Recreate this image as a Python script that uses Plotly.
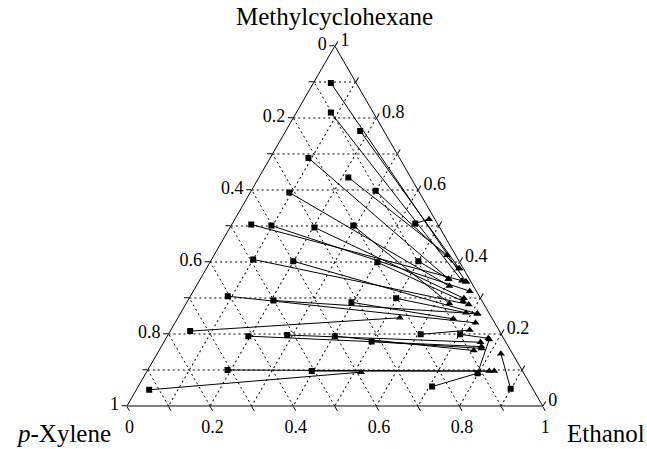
import plotly.graph_objects as go

# Tie lines: square phase (left) and triangle phase (right), mole fractions
sq_mch = [0.897, 0.815, 0.764, 0.689, 0.635, 0.598, 0.593, 0.507,
          0.504, 0.501, 0.496, 0.501,
          0.407, 0.402, 0.399, 0.402,
          0.305, 0.293, 0.288, 0.299,
          0.208, 0.194, 0.197, 0.194, 0.179, 0.199, 0.199,
          0.045, 0.100, 0.097, 0.054, 0.091, 0.048]
sq_eth = [0.042, 0.083, 0.179, 0.092, 0.215, 0.299, 0.094, 0.440,
          0.047, 0.097, 0.203, 0.294,
          0.100, 0.199, 0.403, 0.500,
          0.090, 0.206, 0.396, 0.498,
          0.048, 0.195, 0.287, 0.403, 0.499, 0.607, 0.702,
          0.031, 0.192, 0.396, 0.707, 0.798, 0.899]
tri_mch = [0.345, 0.348, 0.382, 0.353, 0.419, 0.382, 0.333, 0.519,
           0.345, 0.319, 0.299, 0.285,
           0.282, 0.256, 0.291, 0.353,
           0.231, 0.256, 0.242, 0.259,
           0.245, 0.165, 0.177, 0.154, 0.160, 0.211, 0.188,
           0.094, 0.097, 0.097, 0.091, 0.185, 0.145]
tri_eth = [0.643, 0.632, 0.608, 0.597, 0.561, 0.608, 0.609, 0.467,
           0.643, 0.665, 0.661, 0.633,
           0.681, 0.715, 0.663, 0.597,
           0.723, 0.715, 0.664, 0.686,
           0.534, 0.770, 0.762, 0.757, 0.773, 0.719, 0.775,
           0.516, 0.823, 0.835, 0.798, 0.779, 0.827]

tick_vals = [i / 10 for i in range(11)]


def fmt(v):
    v = round(v, 1)
    if v == 0:
        return "0"
    if v == 1:
        return "1"
    return f"{v:.1f}"


def labels():
    out = []
    for i, v in enumerate(tick_vals):
        out.append(fmt(1 - v) if i % 2 == 0 else "")
    return out


# tie-line segments
la, lb, lc = [], [], []
for m1, e1, m2, e2 in zip(sq_mch, sq_eth, tri_mch, tri_eth):
    la += [m1, m2, None]
    lc += [e1, e2, None]
    lb += [1 - m1 - e1, 1 - m2 - e2, None]

fig = go.Figure()
fig.add_trace(go.Scatterternary(a=la, b=lb, c=lc, mode="lines",
                                line=dict(color="black", width=1),
                                hoverinfo="skip", showlegend=False))
fig.add_trace(go.Scatterternary(a=tri_mch, c=tri_eth,
                                b=[1 - m - e for m, e in zip(tri_mch, tri_eth)],
                                mode="markers",
                                marker=dict(symbol="triangle-up", size=7, color="black"),
                                showlegend=False))
fig.add_trace(go.Scatterternary(a=sq_mch, c=sq_eth,
                                b=[1 - m - e for m, e in zip(sq_mch, sq_eth)],
                                mode="markers",
                                marker=dict(symbol="square", size=6, color="black"),
                                showlegend=False))

axis_common = dict(
    tickmode="array", tickvals=tick_vals, ticktext=labels(),
    showline=True, linecolor="black", linewidth=1,
    showgrid=True, gridcolor="black", gridwidth=1, griddash="2px,3px",
    ticks="outside", ticklen=5, tickcolor="black",
    tickfont=dict(family="Liberation Serif", size=18, color="black"),
    title=dict(text=""),
)

title_font = dict(size=25, family="Liberation Serif", color="black")

fig.update_layout(
    width=647, height=449,
    margin=dict(l=0, r=0, t=0, b=0),
    paper_bgcolor="white",
    font=dict(family="Liberation Serif", color="black"),
    ternary=dict(
        sum=1,
        domain=dict(x=[0.035, 1.0], y=[0.0958, 0.8976]),
        bgcolor="white",
        aaxis=axis_common,
        baxis=axis_common,
        caxis=axis_common,
    ),
    annotations=[
        dict(text="Methylcyclohexane", x=334 / 647, y=1 - 17 / 449,
             xref="paper", yref="paper", xanchor="center", yanchor="middle",
             showarrow=False, font=title_font),
        dict(text="<i>p</i>-Xylene", x=63 / 647, y=1 - 433 / 449,
             xref="paper", yref="paper", xanchor="center", yanchor="middle",
             showarrow=False, font=title_font),
        dict(text="Ethanol", x=606 / 647, y=1 - 433 / 449,
             xref="paper", yref="paper", xanchor="center", yanchor="middle",
             showarrow=False, font=title_font),
    ],
)

fig.write_html("out.html")
